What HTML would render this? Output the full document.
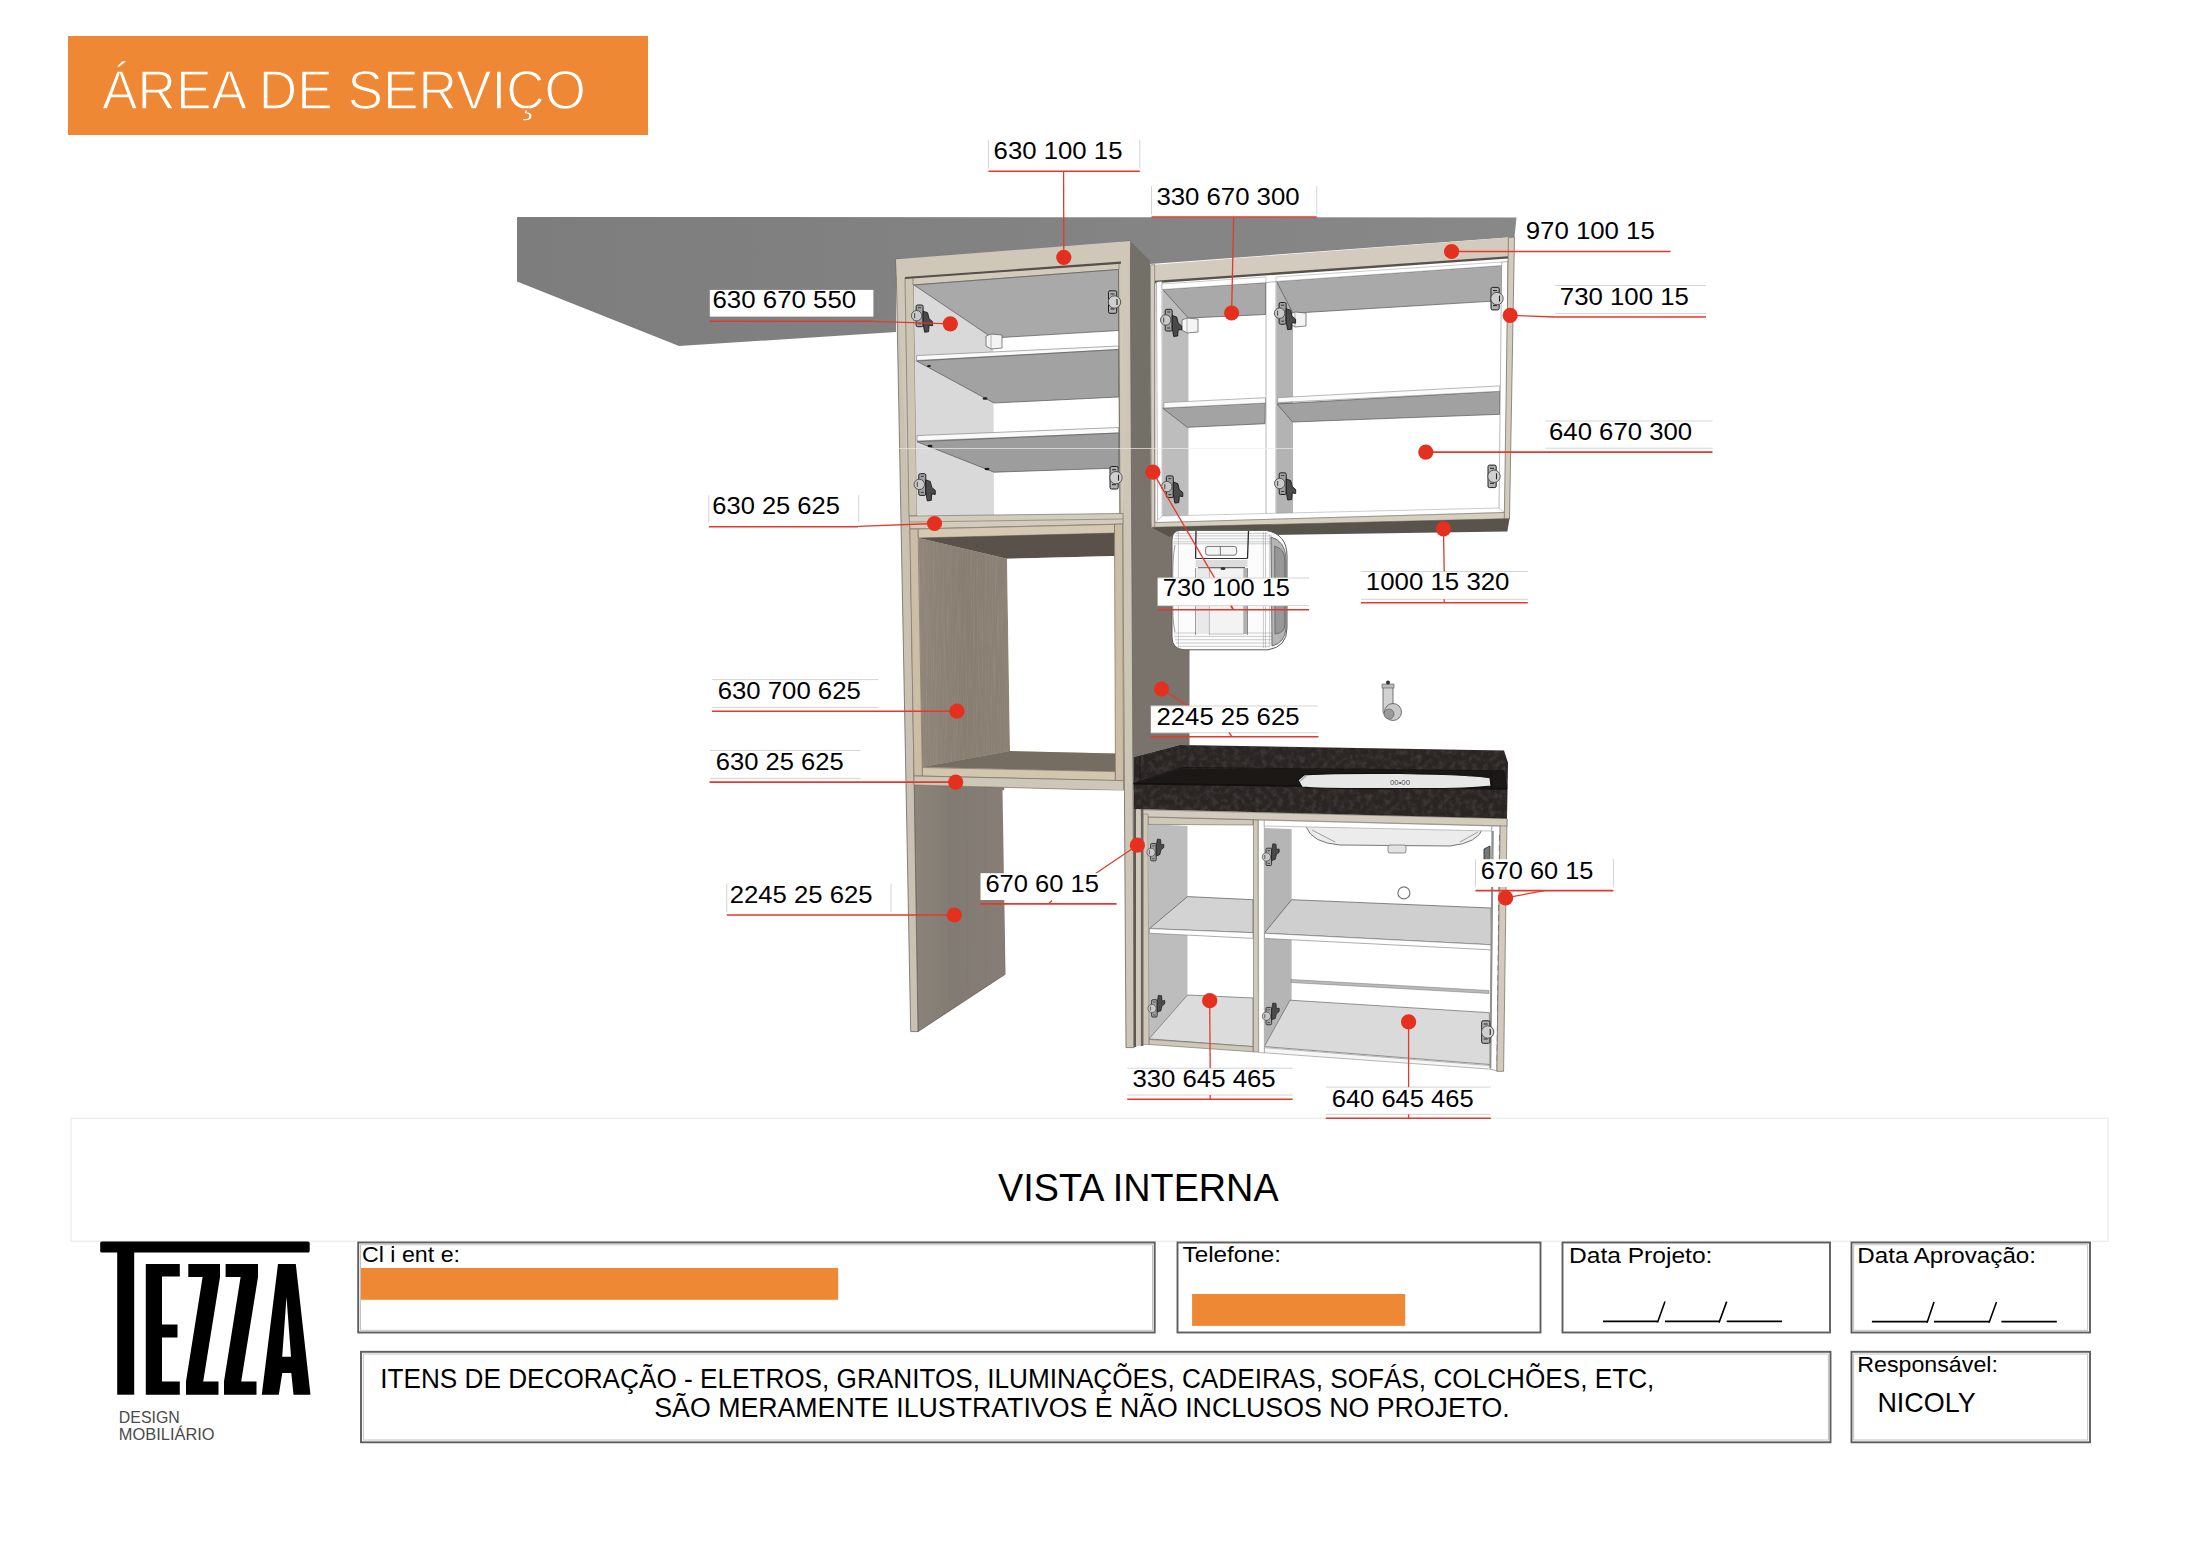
<!DOCTYPE html>
<html><head><meta charset="utf-8">
<style>
html,body{margin:0;padding:0;background:#fff;width:2212px;height:1552px;overflow:hidden;}
svg{position:absolute;left:0;top:0;display:block;}
text{font-family:"Liberation Sans",sans-serif;}
</style></head>
<body>
<svg width="2212" height="1552" viewBox="0 0 2212 1552">
<rect x="71" y="1118.3" width="2037" height="123" fill="none" stroke="#ececec" stroke-width="1.2"/>
<!-- header banner -->
<rect x="68" y="36" width="580" height="99" fill="#EF8834"/>
<text x="102" y="109" font-size="55" fill="#fff" stroke="#EF8834" stroke-width="1.3" paint-order="fill" textLength="484" lengthAdjust="spacingAndGlyphs">ÁREA DE SERVIÇO</text>

<!-- ==== DRAWING ==== -->
<g id="drawing" stroke-linejoin="round">
<!-- ceiling soffit -->
<defs><linearGradient id="soff" x1="0" x2="1" y1="0" y2="0"><stop offset="0" stop-color="#7d7d7d"/><stop offset="1" stop-color="#888888"/></linearGradient>
<filter id="granite" x="0" y="0" width="100%" height="100%"><feTurbulence type="fractalNoise" baseFrequency="0.18" numOctaves="3" seed="7" result="n"/><feColorMatrix in="n" type="matrix" values="0 0 0 0 0.30  0 0 0 0 0.27  0 0 0 0 0.27  0 0 0 -2 1.2" result="c"/><feComposite in="c" in2="SourceGraphic" operator="in"/></filter><g id="hL"><rect x="-0.5" y="-10.7" width="7" height="21.7" rx="1.5" fill="#a0a0a0" stroke="#1e1e1e" stroke-width="1"/><path d="M6.5,-4.5 L11,-3 L12.5,3 L16,6 L16,10 L12.5,9.5 L12,16 L8,16.5 L6.5,8 Z" fill="#4a4a4a" stroke="#111" stroke-width="0.8"/><path d="M1.5,-8 h3 M1.5,8 h3" stroke="#222" stroke-width="0.8"/><circle r="5.2" fill="#c9c9c9" stroke="#4a4a4a" stroke-width="0.9"/><path d="M-2,-2.5 L-2,2.5" stroke="#333" stroke-width="0.9"/></g>
<g id="hR"><rect x="-6" y="-11.2" width="8.2" height="22.5" rx="1.5" fill="#b0b0b0" stroke="#1e1e1e" stroke-width="1"/><path d="M-4,-8 h4 M-4,7 h4" stroke="#222" stroke-width="1"/><circle r="6.2" fill="#cfcfcf" stroke="#4a4a4a" stroke-width="0.9"/><path d="M2.5,-3 L2.5,3" stroke="#222" stroke-width="1.1"/></g>
<g id="brk"><path d="M0,0 L5,-2 L16,-1 L16,12 L5,13 L0,10 Z" fill="#f4f4f4" stroke="#666" stroke-width="0.8"/><path d="M5,-2 L5,13" stroke="#888" stroke-width="0.6"/></g>
<linearGradient id="woodg" x1="0" x2="1" y1="0" y2="0"><stop offset="0" stop-color="#8f8578"/><stop offset="0.5" stop-color="#877d70"/><stop offset="1" stop-color="#8b8174"/></linearGradient>
<filter id="grain" x="0" y="0" width="100%" height="100%"><feTurbulence type="fractalNoise" baseFrequency="0.9 0.02" numOctaves="2" seed="11" result="n"/><feColorMatrix in="n" type="matrix" values="0 0 0 0 0.62  0 0 0 0 0.57  0 0 0 0 0.5  0 0 0 -2.5 1.45" result="c"/><feComposite in="c" in2="SourceGraphic" operator="in"/></filter>
<linearGradient id="tallg" x1="0" x2="1" y1="0" y2="0"><stop offset="0" stop-color="#8a847a"/><stop offset="0.45" stop-color="#827b73"/><stop offset="1" stop-color="#857d76"/></linearGradient>
</defs>
<polygon points="517,217 1516.5,217.4 1514.5,237 1150,264 896,259 896,332 679,346 517,281.5" fill="url(#soff)"/>

<!-- ===== TALL UNIT ===== -->
<!-- right panel side face -->
<polygon points="1130,241 1150,261 1151,528 1189.5,528 1189.5,745 1179.7,745 1133.6,757 1133.6,790 1131,790" fill="#7a736b"/>
<polygon points="1130,241 1150,261 1151,448 1131,448" fill="#737068"/>
<!-- left panel right face (bottom) -->
<polygon points="914,785 1003.7,787 1005.5,974 918,1031.6" fill="url(#tallg)" stroke="#5f5a54" stroke-width="0.8"/>
<g stroke="#7b746c" stroke-width="0.6" opacity="0.6"><line x1="948" y1="786" x2="950" y2="1010"/><line x1="966" y1="786" x2="968" y2="998"/><line x1="985" y1="787" x2="986" y2="986"/></g>
<!-- left panel front edge -->
<polygon points="896,259.3 906,258.6 918,1031.6 910.7,1031.6" fill="#c9c2b3" stroke="#6b665e" stroke-width="0.8"/>
<!-- right panel front edge -->
<polygon points="1121,241.8 1130.2,241 1134.4,1047.6 1126,1047.6" fill="#cdc6b6" stroke="#6b665e" stroke-width="0.8"/>

<!-- upper-left cabinet frame -->
<polygon points="896,259.3 1130.2,241 1123,524 910,529" fill="#cfc8b8"/>
<!-- interior (white) -->
<polygon points="908,278 1120.7,262.7 1122.5,515 914,516" fill="#ffffff"/>
<!-- inner stile light -->
<polygon points="905,278 913.5,277 917,516 909,516" fill="#cdc6b5" stroke="#77726a" stroke-width="0.7"/>
<polygon points="1118,263 1121,262.7 1122.8,515 1119,515" fill="#cdc6b5"/>
<!-- top inner beam strip -->
<polygon points="913,277.5 1119,263 1119,269.5 913,285" fill="#d2cbbb" stroke="#6d685f" stroke-width="0.6"/>
<line x1="905" y1="278" x2="1121" y2="262.7" stroke="#55514a" stroke-width="2.2"/>
<!-- left inner panel -->
<polygon points="914,285 993,285 994,515 917,515" fill="#d9d9d9"/>
<!-- cabinet ceiling -->
<polygon points="914,285 1118.5,269.5 1118.5,330.5 992.6,338" fill="#a9a9a9" stroke="#555" stroke-width="0.7"/>
<!-- shelf A -->
<polygon points="916.6,355.6 1118.5,346 1118.5,349.5 916.6,360.5" fill="#fafafa" stroke="#777" stroke-width="0.6"/>
<polygon points="916.6,361 1118.5,349.5 1118.7,397 994,403" fill="#a2a2a2" stroke="#555" stroke-width="0.7"/>
<!-- shelf B -->
<polygon points="917,435.6 1118.7,427.5 1118.7,433 917,441" fill="#fafafa" stroke="#777" stroke-width="0.6"/>
<polygon points="917,441.7 1118.7,433 1118.7,468 994,472.2" fill="#9d9d9d" stroke="#555" stroke-width="0.7"/>
<g fill="#1a1a1a"><ellipse cx="985" cy="398.5" rx="2.5" ry="1.2"/><ellipse cx="930" cy="446" rx="2.5" ry="1.2"/><ellipse cx="987" cy="469" rx="2.5" ry="1.2"/><ellipse cx="929" cy="366" rx="2" ry="1"/></g>
<!-- right inner line -->
<line x1="1118.5" y1="269" x2="1120" y2="515" stroke="#77726a" stroke-width="1"/>
<!-- bottom beam 630 25 625 -->
<polygon points="909,516 1123,513.5 1123,524 910,529" fill="#d3ccbc" stroke="#77726a" stroke-width="0.7"/>
<line x1="910" y1="522" x2="1123" y2="519" stroke="#8a857b" stroke-width="0.8"/>

<!-- ===== NICHE ===== -->
<polygon points="910,529 1123,524 1124,790.6 914,785" fill="#cbbfa9"/>
<polygon points="918,529 1114.5,524.4 1114.5,533 918,538" fill="#d6c9b3" stroke="#6f675c" stroke-width="0.6"/>
<polygon points="918.8,538 1114.5,533 1114.5,556 1007,558.8" fill="#5a524a"/>
<polygon points="918.8,538 1007,558.8 1010,751 922.4,767" fill="url(#woodg)"/>
<polygon points="918.8,538 1007,558.8 1010,751 922.4,767" fill="#000" filter="url(#grain)" opacity="0.12"/>
<polygon points="1007,558.8 1114.5,556 1115.4,753.6 1010,751" fill="#ffffff"/>
<polygon points="1010,751 1115.4,753.6 1115.4,771.6 922.4,767" fill="#756c62"/>
<polygon points="922,767.5 1115.4,771.6 1115.4,780.6 922,776" fill="#d3c6af" stroke="#6f675c" stroke-width="0.6"/>
<polygon points="909.8,529 918,529 922.4,776 914,776" fill="#cbbda6" stroke="#6f675c" stroke-width="0.6"/>
<polygon points="1114.5,524.4 1122.6,524 1123.5,780.6 1115.4,780.6" fill="#cbbda6" stroke="#6f675c" stroke-width="0.6"/>
<polygon points="914,776 1123.5,780.6 1123.5,790.6 914,785" fill="#cdc7b7" stroke="#6f6a62" stroke-width="0.6"/>
<polygon points="1002.5,790 1124,790.6 1124,1047 1005.5,974" fill="#ffffff"/>

<!-- ===== RIGHT UPPER CABINET ===== -->
<polygon points="1150.4,264.9 1514.5,237 1509.5,518.6 1151.3,527.3" fill="#d3ccbe"/>
<polygon points="1154.7,282 1508.4,257.4 1504.3,512.4 1154.7,522.7" fill="#ffffff"/>
<line x1="1154.7" y1="282" x2="1508.4" y2="257.4" stroke="#57534b" stroke-width="2.4"/>
<line x1="1154.7" y1="282" x2="1154.7" y2="522.7" stroke="#6d685f" stroke-width="1"/>
<line x1="1508.4" y1="257.4" x2="1504.3" y2="512.4" stroke="#6d685f" stroke-width="1"/>
<!-- left compartment -->
<polygon points="1162.6,289.4 1188.4,289 1188.5,516 1162.7,516" fill="#bdbdbd"/>
<polygon points="1162.6,289.4 1265.5,282.6 1265.5,314.5 1188.4,318" fill="#a9a9a9" stroke="#555" stroke-width="0.7"/>
<polygon points="1162.7,408.2 1265.3,403 1265,423.7 1187.4,427.3" fill="#a3a3a3" stroke="#555" stroke-width="0.7"/>
<polygon points="1163.9,402.6 1265.5,397.7 1265.5,403 1163.9,408" fill="#fbfbfb" stroke="#888" stroke-width="0.6"/>
<!-- right compartment -->
<polygon points="1276.5,281.4 1293,300 1293,516 1276.5,516" fill="#b3b3b3"/>
<polygon points="1276.5,281.4 1501.7,265.5 1501.7,300.6 1293,313.2" fill="#a9a9a9" stroke="#555" stroke-width="0.7"/>
<polygon points="1277,404 1499.7,391.3 1499.7,414.3 1292.6,422" fill="#a1a1a1" stroke="#555" stroke-width="0.7"/>
<polygon points="1277.7,397.7 1499.7,385.9 1499.7,391.3 1277.7,402.6" fill="#fbfbfb" stroke="#888" stroke-width="0.6"/>
<!-- white stiles -->
<polygon points="1156.5,282 1162,281.6 1162.2,522 1157.5,522" fill="#ffffff" stroke="#888" stroke-width="0.6"/>
<polygon points="1266,282.6 1276,281.6 1276,518 1266,518.5" fill="#ffffff" stroke="#888" stroke-width="0.6"/>
<polygon points="1501.7,262 1507.8,261.6 1506,512.4 1499,512.4" fill="#ffffff" stroke="#888" stroke-width="0.6"/>
<polygon points="1162,284 1266,277 1266,282.6 1162,289.4" fill="#ffffff" stroke="#999" stroke-width="0.5"/>
<polygon points="1276,277 1501.7,262 1501.7,265.5 1276,281.4" fill="#ffffff" stroke="#999" stroke-width="0.5"/>
<!-- bottom strip white -->
<polygon points="1162,516 1499,508 1504.3,512.4 1155,522.7" fill="#ffffff" stroke="#999" stroke-width="0.5"/>
<!-- bottom beam & face -->
<polygon points="1151.3,522.7 1509.5,512.4 1509.5,518.6 1151.3,527.3" fill="#d6cfc0" stroke="#77726a" stroke-width="0.6"/>
<polygon points="1151.3,527.3 1509.5,518.6 1507.4,531.4 1168.6,536.5" fill="#58544c"/>
<!-- right stile -->
<polygon points="1508.4,237.5 1514.5,237 1509.5,518.6 1504.3,518.6" fill="#d3ccbe" stroke="#6d685f" stroke-width="0.7"/>
<!-- left stile -->
<polygon points="1150.4,264.9 1154.7,264.6 1154.7,527 1151.3,527.3" fill="#d3ccbe" stroke="#6d685f" stroke-width="0.6"/>

<!-- hinges -->
<g id="hinges">
<use href="#brk" x="986" y="336"/>
<use href="#brk" x="1182" y="320"/>
<use href="#brk" x="1290" y="314"/>
<use href="#hL" x="916.6" y="315.7"/>
<use href="#hR" x="1114.5" y="302"/>
<use href="#hL" x="919.3" y="484.4"/>
<use href="#hR" x="1116" y="477.7"/>
<use href="#hL" x="1165.7" y="320"/>
<use href="#hL" x="1279.6" y="313.2"/>
<use href="#hL" x="1166.8" y="486.6"/>
<use href="#hL" x="1279.7" y="483.5"/>
<use href="#hR" x="1497" y="298.6"/>
<use href="#hR" x="1494" y="476.3"/>
<line x1="898" y1="448.5" x2="1293" y2="448.5" stroke="#ececec" stroke-width="1" opacity="0.7"/>
</g>

<!-- ===== PURIFIER ===== -->
<g id="purifier">
<path d="M1180,530.4 L1266,530.4 Q1287,534 1287,556 L1287,628 Q1287,647 1268,649.8 L1184,649.8 Q1172,649 1172,637 L1172,540 Q1172,531 1180,530.4 Z" fill="#fcfcfc" stroke="#5a5a5a" stroke-width="1"/>
<g stroke="#a8a8a8" stroke-width="0.6" fill="none">
<path d="M1176,533.4 H1268 M1175,535.9 H1272 M1174,538.8 H1276 M1173.5,541.8 H1278 M1173,543.8 H1279"/>
<path d="M1174,633 H1279 M1174,636.4 H1278 M1175,639.7 H1276 M1176,643 H1273 M1178,646.4 H1270"/>
<path d="M1178.4,532 V648 M1209.4,568 V635 M1263.4,532 V648 M1265.5,532 V648 M1269.7,534 V647"/>
</g>
<path d="M1175,545 Q1172,560 1173,590 Q1172,620 1175,632" stroke="#777" stroke-width="0.7" fill="none"/>
<rect x="1196.8" y="568" width="12.6" height="66" fill="#e9e9e9"/>
<rect x="1209.4" y="568" width="34.3" height="66" fill="#f3f3f3" stroke="#888" stroke-width="0.5"/>
<rect x="1243.7" y="568" width="3.8" height="66" fill="#b0b0b0"/>
<rect x="1195.6" y="560" width="51.9" height="7" fill="#dcdcdc"/>
<path d="M1196,531 L1195.6,558.5 M1248.5,531 L1247.5,558.5" stroke="#2a2a2a" stroke-width="1.3" fill="none"/>
<path d="M1195.6,568 V635 M1247.5,568 V635" stroke="#777" stroke-width="0.8"/>
<line x1="1195.6" y1="558.5" x2="1247.5" y2="558.5" stroke="#333" stroke-width="1.2"/>
<line x1="1198" y1="567.7" x2="1245" y2="567.5" stroke="#555" stroke-width="0.9"/>
<ellipse cx="1223" cy="568.5" rx="2.5" ry="1.5" fill="#333"/>
<rect x="1205.6" y="546.4" width="31" height="8.8" rx="2.5" fill="#f4f4f4" stroke="#555" stroke-width="0.8"/>
<line x1="1220.3" y1="546.4" x2="1220.3" y2="555.2" stroke="#555" stroke-width="0.8"/>
<path d="M1271,537 Q1285,541 1286,558 L1286,628 Q1285,643 1272,646 Z" fill="#b5b5b5" stroke="#555" stroke-width="0.8"/>
<path d="M1274.7,546 Q1284.8,549 1284.8,560 L1284.8,625 Q1284.8,633 1275,634 Z" fill="#979797" stroke="#5a5a5a" stroke-width="0.7"/>
</g>

<!-- ===== FAUCET ===== -->
<g id="faucet">
<rect x="1383" y="686" width="10" height="28" rx="2" fill="#d2d2d2" stroke="#555" stroke-width="0.8"/>
<rect x="1382" y="684" width="12" height="4" fill="#bbb" stroke="#555" stroke-width="0.6"/>
<circle cx="1388" cy="682.5" r="2" fill="#333"/>
<circle cx="1393" cy="712" r="8.5" fill="#c9c9c9" stroke="#555" stroke-width="0.8"/>
<circle cx="1389" cy="714" r="5" fill="#9a9a9a" stroke="#555" stroke-width="0.6"/>
</g>

<!-- ===== LOWER CABINET ===== -->
<polygon points="1134.4,809 1507,818.6 1503.6,1071.3 1134.4,1047.6" fill="#ffffff"/>
<!-- left compartment -->
<polygon points="1148.4,824 1187.5,826 1187.5,995 1149,1039" fill="#bdbdbd"/>
<polygon points="1149,1038.9 1187.5,995 1253,998 1253,1046.6" fill="#dcdcdc" stroke="#666" stroke-width="0.7"/>
<polygon points="1149.4,928.6 1187.5,896.6 1253,899.7 1253,932.7" fill="#d3d3d3" stroke="#555" stroke-width="0.7"/>
<polygon points="1149.4,928.6 1253,932.7 1253,938.4 1149.4,933.2" fill="#fdfdfd" stroke="#777" stroke-width="0.6"/>
<polygon points="1148.9,1039.4 1253,1046.6 1253,1051.8 1149,1044.5" fill="#cfc8b8" stroke="#6d685f" stroke-width="0.6"/>
<!-- right compartment -->
<polygon points="1264.3,828 1291.6,829 1291.6,1000 1264.3,1046.6" fill="#b5b5b5"/>
<polygon points="1264.3,1046.6 1290,1000.2 1489.3,1012.7 1491,1064.6" fill="#dadada" stroke="#666" stroke-width="0.7"/>
<polygon points="1264.3,933.2 1291.6,899.7 1491,908 1491.9,944.8" fill="#cfcfcf" stroke="#555" stroke-width="0.7"/>
<polygon points="1264.3,933.2 1491.9,944.8 1491.9,949.9 1264.3,938.4" fill="#fdfdfd" stroke="#777" stroke-width="0.6"/>
<polygon points="1291,979.5 1489,990.5 1489,993.5 1291,982.5" fill="#b9b9b9" stroke="#777" stroke-width="0.5"/>
<polygon points="1264.3,1047.6 1496,1066 1496,1069.6 1264.3,1052.8" fill="#f5f5f5" stroke="#888" stroke-width="0.6"/>
<!-- sink bowl -->
<path d="M1306,826.5 Q1312,843 1340,845 L1450,846 Q1478,843 1483,828 Z" fill="#ececec" stroke="#555" stroke-width="0.8"/>
<path d="M1312,830 L1335,842 M1460,842 L1478,832" stroke="#666" stroke-width="0.6"/>
<rect x="1388" y="845" width="18" height="8" rx="2" fill="#e2e2e2" stroke="#666" stroke-width="0.7"/>
<circle cx="1403.9" cy="892.9" r="6" fill="none" stroke="#777" stroke-width="1.2"/>
<!-- divider -->
<polygon points="1253.5,819.8 1258,819.9 1258.5,1052 1253.5,1052" fill="#d0c9b9" stroke="#6d685f" stroke-width="0.6"/>
<polygon points="1258.5,820 1264.3,820.2 1264.3,1052.8 1258.7,1052.6" fill="#ffffff" stroke="#888" stroke-width="0.6"/>
<!-- top inner beams -->
<polygon points="1148,817 1253,819.8 1253,825 1148,824.4" fill="#d0c9b9" stroke="#6d685f" stroke-width="0.6"/>
<polygon points="1264.3,820.2 1492,826 1492,831 1264.3,826" fill="#ffffff" stroke="#999" stroke-width="0.6"/>
<!-- right inner white stile -->
<polygon points="1491.9,826 1500.2,826 1496.9,1071 1490.5,1069" fill="#ffffff" stroke="#777" stroke-width="0.6"/>
<line x1="1492.8" y1="831" x2="1490.3" y2="1068" stroke="#8f8f8f" stroke-width="2"/>
<line x1="1499.5" y1="835" x2="1497" y2="1066" stroke="#666" stroke-width="0.8" stroke-dasharray="6 4"/>
<!-- right outer stile -->
<polygon points="1500.2,819 1507,819 1503.6,1071.3 1496.9,1071.3" fill="#d2cbbb" stroke="#6d685f" stroke-width="0.7"/>
<!-- left stiles -->
<!-- top beam -->
<polygon points="1136,809.6 1507,818.6 1507,826 1143,816.8" fill="#d3ccbc" stroke="#6d685f" stroke-width="0.6"/>
<polygon points="1133.5,809 1136.3,809 1136.3,1047 1133.5,1047" fill="#5e5a53"/>
<polygon points="1136.2,809 1140.8,809 1140.8,1046 1136.2,1046" fill="#d0c9b9"/>
<polygon points="1140.8,809 1143.4,809 1143.4,1046 1140.8,1046" fill="#6a655d"/>
<polygon points="1143.4,814 1148,814 1148.9,1044.5 1143.4,1044.5" fill="#cfc8b8" stroke="#6d685f" stroke-width="0.5"/>

<g id="hinges2">
<use href="#hL" transform="translate(1151,852.3) scale(0.8,-0.8)"/>
<use href="#hL" transform="translate(1266.4,857) scale(0.8,-0.8)"/>
<use href="#hL" transform="translate(1152,1008.5) scale(0.8,-0.8)"/>
<use href="#hL" transform="translate(1266.4,1016.2) scale(0.8,-0.8)"/>
<use href="#hR" x="1487.7" y="1032"/>
<path d="M1484,849 L1490,846 L1490,862 L1484,862 Z" fill="#777" stroke="#222" stroke-width="0.8"/>
</g>
<!-- ===== COUNTERTOP ===== -->
<polygon points="1133.6,757 1179.7,745 1504,750.4 1508,762.8 1507,818.6 1133.6,809" fill="#2a2423"/>
<polygon points="1133.6,757 1179.7,745 1504,750.4 1508,762.8 1507,818.6 1133.6,809" fill="#000" filter="url(#granite)" opacity="0.22"/>
<line x1="1140" y1="756" x2="1140" y2="783" stroke="#1a1716" stroke-width="1"/>
<polygon points="1133.6,783.8 1183.8,768.4 1504,770.8 1507,788.5" fill="#1c1816"/>
<polygon points="1133.6,783.3 1183.3,767.5 1504,770.8 1507,788.5" fill="none" stroke="#111" stroke-width="0.8"/>
<line x1="1133.6" y1="783.8" x2="1507" y2="789" stroke="#141110" stroke-width="1.5"/>
<line x1="1491" y1="771" x2="1492" y2="788" stroke="#151211" stroke-width="1"/>
<!-- sink -->
<path d="M1298,780 L1304,775 Q1320,773 1400,773.5 Q1480,775 1490,778 L1491,786 Q1470,789 1400,788.5 Q1320,789 1302,787 Z" fill="#e7e7e7" stroke="#111" stroke-width="1.1"/>
<path d="M1300,781 L1306,776" stroke="#aaa" stroke-width="1.5"/>
<text x="1390" y="785" font-size="8" fill="#555" textLength="20" lengthAdjust="spacingAndGlyphs">00•00</text>
</g>

<g id="labels">
<polyline points="1152.9,472.2 1233.0,609.7" fill="none" stroke="#e3392c" stroke-width="1.3"/>
<polyline points="1137.4,845.2 1095.6,873.5" fill="none" stroke="#e3392c" stroke-width="1.3"/>
<polyline points="1161.5,689.0 1188.0,706.0" fill="none" stroke="#e3392c" stroke-width="1.3"/>
<rect x="988.4" y="139.8" width="151.4" height="28.7" fill="#fff"/>
<line x1="988.4" y1="139.8" x2="988.4" y2="168.5" stroke="#d4d4d4" stroke-width="1"/>
<line x1="1139.8" y1="139.8" x2="1139.8" y2="168.5" stroke="#d4d4d4" stroke-width="1"/>
<text x="993.6" y="159.3" font-size="24.5" fill="#000" textLength="128.9" lengthAdjust="spacingAndGlyphs">630 100 15</text>
<line x1="988.4" y1="171.2" x2="1139.8" y2="171.2" stroke="#e3392c" stroke-width="1.6"/>
<polyline points="1063.6,171.2 1063.8,257.3" fill="none" stroke="#e3392c" stroke-width="1.3"/>
<circle cx="1063.8" cy="257.3" r="7.6" fill="#e5301f"/>
<rect x="1151.5" y="186.2" width="165.2" height="28.3" fill="#fff"/>
<line x1="1151.5" y1="186.2" x2="1151.5" y2="214.5" stroke="#d4d4d4" stroke-width="1"/>
<line x1="1316.7" y1="186.2" x2="1316.7" y2="214.5" stroke="#d4d4d4" stroke-width="1"/>
<text x="1156.4" y="204.9" font-size="24.5" fill="#000" textLength="143.2" lengthAdjust="spacingAndGlyphs">330 670 300</text>
<line x1="1151.5" y1="217.0" x2="1316.7" y2="217.0" stroke="#e3392c" stroke-width="1.6"/>
<polyline points="1233.7,217.0 1231.6,313.0" fill="none" stroke="#e3392c" stroke-width="1.3"/>
<circle cx="1231.6" cy="313.0" r="7.6" fill="#e5301f"/>
<text x="1525.7" y="239.3" font-size="24.5" fill="#000" textLength="129.1" lengthAdjust="spacingAndGlyphs">970 100 15</text>
<line x1="1451.6" y1="251.5" x2="1670.6" y2="251.5" stroke="#e3392c" stroke-width="1.6"/>
<circle cx="1451.6" cy="251.5" r="7.6" fill="#e5301f"/>
<rect x="1555.2" y="285.5" width="150.8" height="27.9" fill="#fff"/>
<line x1="1555.2" y1="285.5" x2="1706.0" y2="285.5" stroke="#d4d4d4" stroke-width="1"/>
<line x1="1555.2" y1="313.4" x2="1706.0" y2="313.4" stroke="#d4d4d4" stroke-width="1"/>
<text x="1559.8" y="304.9" font-size="24.5" fill="#000" textLength="129.1" lengthAdjust="spacingAndGlyphs">730 100 15</text>
<line x1="1555.2" y1="317.0" x2="1706.0" y2="317.0" stroke="#e3392c" stroke-width="1.6"/>
<polyline points="1510.2,315.4 1555.2,317.0" fill="none" stroke="#e3392c" stroke-width="1.3"/>
<circle cx="1510.2" cy="315.4" r="7.6" fill="#e5301f"/>
<rect x="709.8" y="289.9" width="163.6" height="26.7" fill="#fff"/>
<text x="712.5" y="308.0" font-size="24.5" fill="#000" textLength="143.7" lengthAdjust="spacingAndGlyphs">630 670 550</text>
<line x1="709.8" y1="321.2" x2="873.4" y2="321.2" stroke="#e3392c" stroke-width="1.6"/>
<polyline points="873.4,321.4 950.3,323.8" fill="none" stroke="#e3392c" stroke-width="1.3"/>
<circle cx="950.3" cy="323.8" r="7.6" fill="#e5301f"/>
<rect x="1545.4" y="421.0" width="167.1" height="27.2" fill="#fff"/>
<line x1="1545.4" y1="421.0" x2="1712.5" y2="421.0" stroke="#d4d4d4" stroke-width="1"/>
<line x1="1545.4" y1="448.2" x2="1712.5" y2="448.2" stroke="#d4d4d4" stroke-width="1"/>
<text x="1549.0" y="439.8" font-size="24.5" fill="#000" textLength="143.2" lengthAdjust="spacingAndGlyphs">640 670 300</text>
<line x1="1425.8" y1="452.1" x2="1712.5" y2="452.1" stroke="#e3392c" stroke-width="1.6"/>
<circle cx="1425.8" cy="452.1" r="7.6" fill="#e5301f"/>
<rect x="708.8" y="495.3" width="149.9" height="27.0" fill="#fff"/>
<line x1="708.8" y1="495.3" x2="708.8" y2="522.3" stroke="#d4d4d4" stroke-width="1"/>
<line x1="858.7" y1="495.3" x2="858.7" y2="522.3" stroke="#d4d4d4" stroke-width="1"/>
<text x="712.3" y="514.1" font-size="24.5" fill="#000" textLength="127.6" lengthAdjust="spacingAndGlyphs">630 25 625</text>
<line x1="708.8" y1="526.8" x2="858.0" y2="526.8" stroke="#e3392c" stroke-width="1.6"/>
<polyline points="858.0,526.4 934.5,523.5" fill="none" stroke="#e3392c" stroke-width="1.3"/>
<circle cx="934.5" cy="523.5" r="7.6" fill="#e5301f"/>
<rect x="1157.6" y="578.0" width="151.4" height="27.6" fill="#fff"/>
<line x1="1157.6" y1="578.0" x2="1309.0" y2="578.0" stroke="#d4d4d4" stroke-width="1"/>
<line x1="1157.6" y1="605.6" x2="1309.0" y2="605.6" stroke="#d4d4d4" stroke-width="1"/>
<text x="1162.8" y="596.3" font-size="24.5" fill="#000" textLength="127.2" lengthAdjust="spacingAndGlyphs">730 100 15</text>
<line x1="1157.6" y1="609.7" x2="1309.0" y2="609.7" stroke="#e3392c" stroke-width="1.6"/>
<circle cx="1152.9" cy="472.2" r="7.6" fill="#e5301f"/>
<rect x="1361.0" y="571.5" width="166.8" height="27.8" fill="#fff"/>
<line x1="1361.0" y1="571.5" x2="1527.8" y2="571.5" stroke="#d4d4d4" stroke-width="1"/>
<line x1="1361.0" y1="599.3" x2="1527.8" y2="599.3" stroke="#d4d4d4" stroke-width="1"/>
<text x="1365.8" y="590.2" font-size="24.5" fill="#000" textLength="143.7" lengthAdjust="spacingAndGlyphs">1000 15 320</text>
<line x1="1361.0" y1="602.8" x2="1527.8" y2="602.8" stroke="#e3392c" stroke-width="1.6"/>
<polyline points="1444.2,571.5 1443.5,528.9" fill="none" stroke="#e3392c" stroke-width="1.3"/>
<circle cx="1443.5" cy="528.9" r="7.6" fill="#e5301f"/>
<rect x="712.0" y="679.6" width="166.5" height="27.8" fill="#fff"/>
<line x1="712.0" y1="679.6" x2="878.5" y2="679.6" stroke="#d4d4d4" stroke-width="1"/>
<line x1="712.0" y1="707.4" x2="878.5" y2="707.4" stroke="#d4d4d4" stroke-width="1"/>
<text x="717.7" y="699.2" font-size="24.5" fill="#000" textLength="143.1" lengthAdjust="spacingAndGlyphs">630 700 625</text>
<line x1="712.0" y1="711.2" x2="957.0" y2="711.2" stroke="#e3392c" stroke-width="1.6"/>
<circle cx="957.0" cy="711.2" r="7.6" fill="#e5301f"/>
<rect x="1150.8" y="706.0" width="167.0" height="26.8" fill="#fff"/>
<line x1="1150.8" y1="706.0" x2="1317.8" y2="706.0" stroke="#d4d4d4" stroke-width="1"/>
<line x1="1150.8" y1="732.8" x2="1317.8" y2="732.8" stroke="#d4d4d4" stroke-width="1"/>
<text x="1156.5" y="725.0" font-size="24.5" fill="#000" textLength="143.0" lengthAdjust="spacingAndGlyphs">2245 25 625</text>
<line x1="1150.8" y1="736.7" x2="1318.5" y2="736.7" stroke="#e3392c" stroke-width="1.6"/>
<circle cx="1161.5" cy="689.0" r="7.6" fill="#e5301f"/>
<rect x="710.0" y="750.4" width="150.8" height="27.9" fill="#fff"/>
<line x1="710.0" y1="750.4" x2="860.8" y2="750.4" stroke="#d4d4d4" stroke-width="1"/>
<line x1="710.0" y1="778.3" x2="860.8" y2="778.3" stroke="#d4d4d4" stroke-width="1"/>
<text x="715.8" y="770.0" font-size="24.5" fill="#000" textLength="127.9" lengthAdjust="spacingAndGlyphs">630 25 625</text>
<line x1="709.5" y1="782.1" x2="955.7" y2="782.1" stroke="#e3392c" stroke-width="1.6"/>
<circle cx="955.7" cy="782.1" r="7.6" fill="#e5301f"/>
<rect x="980.5" y="873.2" width="136.1" height="26.8" fill="#fff"/>
<text x="985.4" y="892.2" font-size="24.5" fill="#000" textLength="113.6" lengthAdjust="spacingAndGlyphs">670 60 15</text>
<line x1="980.5" y1="903.9" x2="1116.6" y2="903.9" stroke="#e3392c" stroke-width="1.6"/>
<circle cx="1137.4" cy="845.2" r="7.6" fill="#e5301f"/>
<rect x="726.8" y="883.5" width="164.2" height="28.5" fill="#fff"/>
<line x1="726.8" y1="883.5" x2="726.8" y2="912.0" stroke="#d4d4d4" stroke-width="1"/>
<line x1="891.0" y1="883.5" x2="891.0" y2="912.0" stroke="#d4d4d4" stroke-width="1"/>
<text x="729.7" y="902.9" font-size="24.5" fill="#000" textLength="142.9" lengthAdjust="spacingAndGlyphs">2245 25 625</text>
<line x1="726.8" y1="915.0" x2="954.3" y2="915.0" stroke="#e3392c" stroke-width="1.6"/>
<circle cx="954.3" cy="915.0" r="7.6" fill="#e5301f"/>
<rect x="1475.5" y="859.2" width="137.9" height="27.7" fill="#fff"/>
<line x1="1475.5" y1="859.2" x2="1475.5" y2="886.9" stroke="#d4d4d4" stroke-width="1"/>
<line x1="1613.4" y1="859.2" x2="1613.4" y2="886.9" stroke="#d4d4d4" stroke-width="1"/>
<text x="1480.7" y="879.2" font-size="24.5" fill="#000" textLength="112.7" lengthAdjust="spacingAndGlyphs">670 60 15</text>
<line x1="1475.5" y1="890.6" x2="1613.4" y2="890.6" stroke="#e3392c" stroke-width="1.6"/>
<polyline points="1505.6,897.9 1544.6,890.6" fill="none" stroke="#e3392c" stroke-width="1.3"/>
<circle cx="1505.6" cy="897.9" r="7.6" fill="#e5301f"/>
<rect x="1127.2" y="1068.2" width="165.5" height="26.8" fill="#fff"/>
<line x1="1127.2" y1="1068.2" x2="1292.7" y2="1068.2" stroke="#d4d4d4" stroke-width="1"/>
<line x1="1127.2" y1="1095.0" x2="1292.7" y2="1095.0" stroke="#d4d4d4" stroke-width="1"/>
<text x="1132.4" y="1087.3" font-size="24.5" fill="#000" textLength="143.3" lengthAdjust="spacingAndGlyphs">330 645 465</text>
<line x1="1127.2" y1="1099.2" x2="1292.7" y2="1099.2" stroke="#e3392c" stroke-width="1.6"/>
<polyline points="1210.2,1068.2 1209.7,1000.7" fill="none" stroke="#e3392c" stroke-width="1.3"/>
<circle cx="1209.7" cy="1000.7" r="7.6" fill="#e5301f"/>
<rect x="1325.8" y="1087.1" width="165.0" height="27.2" fill="#fff"/>
<line x1="1325.8" y1="1087.1" x2="1490.8" y2="1087.1" stroke="#d4d4d4" stroke-width="1"/>
<line x1="1325.8" y1="1114.3" x2="1490.8" y2="1114.3" stroke="#d4d4d4" stroke-width="1"/>
<text x="1331.7" y="1107.0" font-size="24.5" fill="#000" textLength="142.0" lengthAdjust="spacingAndGlyphs">640 645 465</text>
<line x1="1325.8" y1="1118.3" x2="1490.8" y2="1118.3" stroke="#e3392c" stroke-width="1.6"/>
<polyline points="1408.6,1087.1 1408.6,1021.9" fill="none" stroke="#e3392c" stroke-width="1.3"/>
<circle cx="1408.6" cy="1021.9" r="7.6" fill="#e5301f"/>
<polyline points="1444.2,599.3 1444.2,602.8" fill="none" stroke="#e3392c" stroke-width="1.3"/>
<polyline points="1210.2,1095.0 1210.2,1099.2" fill="none" stroke="#e3392c" stroke-width="1.3"/>
<polyline points="1408.6,1114.3 1408.6,1118.3" fill="none" stroke="#e3392c" stroke-width="1.3"/>
<polyline points="1231.3,605.6 1233.4,609.7" fill="none" stroke="#e3392c" stroke-width="1.3"/>
<polyline points="1229.0,732.5 1232.0,736.7" fill="none" stroke="#e3392c" stroke-width="1.3"/>
<polyline points="1048.5,903.9 1052.0,900.5" fill="none" stroke="#e3392c" stroke-width="1.3"/>
</g>

<!-- ==== FOOTER ==== -->
<g id="footer">
<text x="998" y="1201" font-size="38" fill="#000" textLength="280.6" lengthAdjust="spacingAndGlyphs">VISTA INTERNA</text>
<!-- logo -->
<g fill="#000">
<rect x="100.2" y="1241.6" width="209.5" height="10.9" rx="1.5"/>
<rect x="117.2" y="1252" width="17" height="142.7"/>
<path d="M145.8,1264 H179.8 V1276.4 H162 V1324.4 H177.5 V1337.5 H162 V1381.6 H179.8 V1394.7 H145.8 Z"/>
<path d="M188.3,1264 H220 V1277 L203.2,1381.6 H218.5 V1394.7 H186 V1381.6 L202.6,1277 H188.3 Z"/>
<path d="M225.6,1264 H258 V1277 L241.2,1381.6 H256.5 V1394.7 H224 V1381.6 L240.6,1277 H225.6 Z"/>
<path d="M278,1264 H295.8 L310.5,1394.7 H293.5 L291.3,1373 H282.3 L278.8,1394.7 H261.8 Z M286.5,1297 L282.2,1356.8 H291 Z" fill-rule="evenodd"/>
</g>
<text x="118.8" y="1422.6" font-size="16.5" fill="#4a4a4a" textLength="61" lengthAdjust="spacingAndGlyphs">DESIGN</text>
<text x="118.8" y="1440.4" font-size="16.5" fill="#4a4a4a" textLength="95.8" lengthAdjust="spacingAndGlyphs">MOBILIÁRIO</text>
<!-- boxes -->
<g fill="none" stroke="#5e5e5e" stroke-width="1.9">
<rect x="358.2" y="1242.5" width="796.5" height="90"/>
<rect x="1177.5" y="1242.5" width="363" height="90"/>
<rect x="1562.5" y="1242.5" width="267.5" height="90"/>
<rect x="1851.5" y="1242.5" width="238.5" height="90"/>
<rect x="361" y="1351.8" width="1469.5" height="90.5"/>
<rect x="1851.5" y="1351.8" width="238.5" height="90.5"/>
</g>
<g fill="none" stroke="#b5b5b5" stroke-width="0.8">
<rect x="360.5" y="1244.8" width="792" height="85.5"/>
<rect x="363.3" y="1354" width="1465" height="86"/>
<rect x="1853.7" y="1354" width="234" height="86"/>
<rect x="1853.7" y="1244.8" width="234" height="85.5"/>
</g>
<rect x="361" y="1268" width="477.2" height="31.8" fill="#EF8834"/>
<rect x="1192.1" y="1294" width="213.1" height="31.9" fill="#EF8834"/>
<g font-size="22.5" fill="#000">
<text x="362" y="1261.5" textLength="98" lengthAdjust="spacingAndGlyphs">Cl i ent e:</text>
<text x="1182.6" y="1261.7" textLength="98.4" lengthAdjust="spacingAndGlyphs">Telefone:</text>
<text x="1569" y="1263.4" textLength="143.4" lengthAdjust="spacingAndGlyphs">Data Projeto:</text>
<text x="1857.3" y="1263.4" textLength="178.7" lengthAdjust="spacingAndGlyphs">Data Aprovação:</text>
<text x="1857.3" y="1372.1" textLength="140.6" lengthAdjust="spacingAndGlyphs">Responsável:</text>
</g>
<text x="1877.4" y="1412" font-size="28" fill="#000" textLength="98.3" lengthAdjust="spacingAndGlyphs">NICOLY</text>
<text x="380.3" y="1387.5" font-size="27" fill="#000" textLength="1274" lengthAdjust="spacingAndGlyphs">ITENS DE DECORAÇÃO - ELETROS, GRANITOS, ILUMINAÇÕES, CADEIRAS, SOFÁS, COLCHÕES, ETC,</text>
<text x="654.3" y="1417" font-size="27" fill="#000" textLength="855.5" lengthAdjust="spacingAndGlyphs">SÃO MERAMENTE ILUSTRATIVOS E NÃO INCLUSOS NO PROJETO.</text>
<!-- date lines -->
<g stroke="#000" stroke-width="1.6" fill="none">
<path d="M1603,1321.4 H1657.5 M1665,1321.4 H1719 M1726.7,1321.4 H1782"/>
<path d="M1657.5,1322.6 L1665,1301.6 M1719,1322.6 L1726.7,1301.6"/>
<path d="M1871.9,1321.6 H1927 M1934,1321.6 H1989 M2001.4,1321.6 H2056.8"/>
<path d="M1927,1322.8 L1934,1302 M1989,1322.8 L1996.5,1302"/>
</g>
</g>
</svg>
</body></html>
